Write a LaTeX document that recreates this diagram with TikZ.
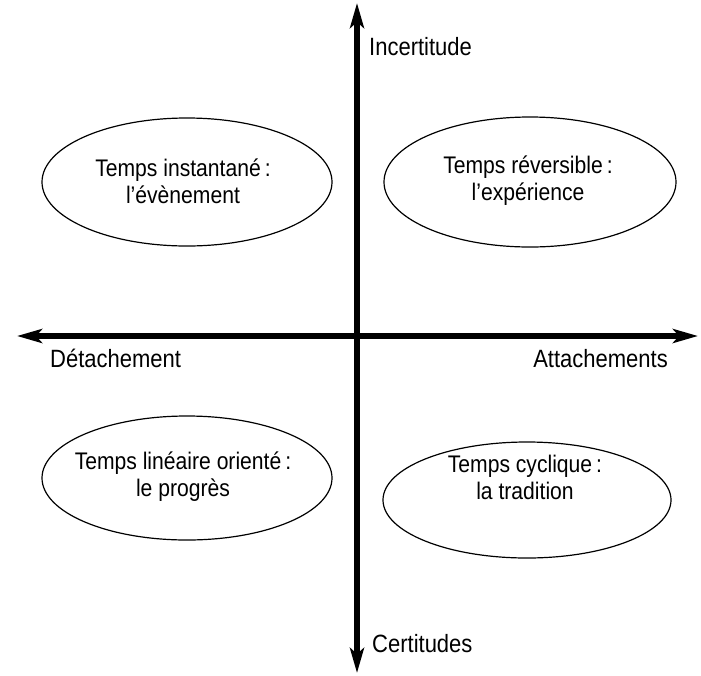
\documentclass[tikz,border=0pt]{standalone}
\usepackage{fontspec}
\setmainfont{Liberation Sans}[FakeStretch=0.88]
\usepackage{tikz}
\usetikzlibrary{calc,arrows.meta,shapes.geometric}

\begin{document}
\begin{tikzpicture}[x=1pt,y=-1pt]
    \tikzstyle{every node}=[font=\fontsize{24}{27}\selectfont,inner sep=0pt]
    \tikzstyle{axe}=[line width=5.5pt,{Stealth[length=25pt,width=14pt,inset=6pt]}-{Stealth[length=25pt,width=14pt,inset=6pt]}]
    \tikzstyle{zone}=[draw,ellipse,line width=1.2pt]
    \tikzstyle{lab}=[font=\fontsize{25}{28}\selectfont]

    \useasboundingbox (0,0) rectangle (701,675);

    % axes
    \coordinate (n) at (357,3);
    \coordinate (s) at (357,673);
    \coordinate (w) at (17,336);
    \coordinate (e) at (698,336);
    \draw[axe] (w) -- (e);
    \draw[axe] (n) -- (s);

    \node[lab,anchor=base west] (inc) at (369,55) {Incertitude};
    \node[lab,anchor=base west] (cer) at (372,652) {Certitudes};
    \node[lab,anchor=base west] (det) at (50,367) {Détachement};
    \node[lab,anchor=base east] (att) at (668,367) {Attachements};

    % the four ellipses
    \node[zone,minimum width=290pt,minimum height=128pt] (11) at (187,182) {};
    \node[zone,minimum width=292pt,minimum height=130pt] (12) at (530,182) {};
    \node[zone,minimum width=290pt,minimum height=124pt] (21) at (187,478) {};
    \node[zone,minimum width=288pt,minimum height=116pt] (22) at (527,500) {};

    \node[align=center] (11t) at ($(11) + (-4,-1)$) {Temps instantané\,:\\l’évènement};
    \node[align=center] (12t) at ($(12) + (-2,-1)$) {Temps réversible\,:\\l’expérience};
    \node[align=center] (21t) at ($(21) + (-4,-1)$) {Temps linéaire orienté\,:\\le progrès};
    \node[align=center] (22t) at ($(22) + (-2,-23)$) {Temps cyclique\,:\\la tradition};

\end{tikzpicture}
\end{document}
